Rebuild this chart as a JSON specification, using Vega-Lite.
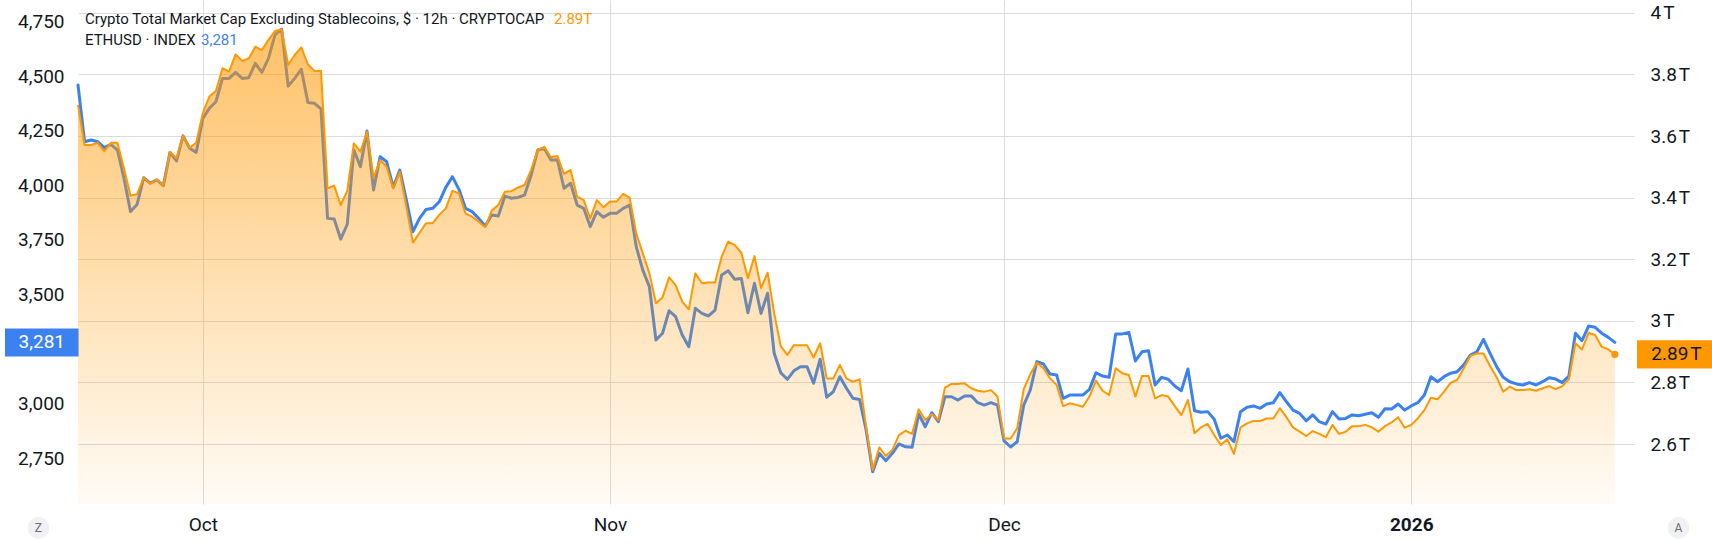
{
  "$schema": "https://vega.github.io/schema/vega-lite/v6.json",
  "width": 1556,
  "height": 504,
  "autosize": {"type": "none"},
  "padding": {"left": 78, "right": 78, "top": 0, "bottom": 44},
  "background": "#ffffff",
  "config": {
    "view": {"stroke": null},
    "font": "Roboto",
    "axis": {"domain": false, "ticks": false, "labelColor": "#131722", "labelFont": "Roboto", "labelFontSize": 19, "gridColor": "#D9DCE1", "gridWidth": 1, "labelOverlap": false, "labelFlush": false, "labelBound": false}
  },
  "data": {
    "format": {"parse": {"t": "date"}},
    "values": [
      {"t":"2025-09-21T12:00","cap":3.701,"eth":4460},
      {"t":"2025-09-22T00:00","cap":3.571,"eth":4200},
      {"t":"2025-09-22T12:00","cap":3.571,"eth":4208},
      {"t":"2025-09-23T00:00","cap":3.578,"eth":4200},
      {"t":"2025-09-23T12:00","cap":3.551,"eth":4173},
      {"t":"2025-09-24T00:00","cap":3.578,"eth":4188},
      {"t":"2025-09-24T12:00","cap":3.578,"eth":4162},
      {"t":"2025-09-25T00:00","cap":3.495,"eth":4032},
      {"t":"2025-09-25T12:00","cap":3.406,"eth":3880},
      {"t":"2025-09-26T00:00","cap":3.411,"eth":3913},
      {"t":"2025-09-26T12:00","cap":3.465,"eth":4035},
      {"t":"2025-09-27T00:00","cap":3.446,"eth":4010},
      {"t":"2025-09-27T12:00","cap":3.459,"eth":4025},
      {"t":"2025-09-28T00:00","cap":3.439,"eth":3999},
      {"t":"2025-09-28T12:00","cap":3.549,"eth":4151},
      {"t":"2025-09-29T00:00","cap":3.528,"eth":4112},
      {"t":"2025-09-29T12:00","cap":3.601,"eth":4227},
      {"t":"2025-09-30T00:00","cap":3.562,"eth":4170},
      {"t":"2025-09-30T12:00","cap":3.578,"eth":4151},
      {"t":"2025-10-01T00:00","cap":3.674,"eth":4307},
      {"t":"2025-10-01T12:00","cap":3.728,"eth":4353},
      {"t":"2025-10-02T00:00","cap":3.746,"eth":4383},
      {"t":"2025-10-02T12:00","cap":3.820,"eth":4490},
      {"t":"2025-10-03T00:00","cap":3.809,"eth":4490},
      {"t":"2025-10-03T12:00","cap":3.865,"eth":4518},
      {"t":"2025-10-04T00:00","cap":3.844,"eth":4490},
      {"t":"2025-10-04T12:00","cap":3.852,"eth":4493},
      {"t":"2025-10-05T00:00","cap":3.890,"eth":4559},
      {"t":"2025-10-05T12:00","cap":3.879,"eth":4518},
      {"t":"2025-10-06T00:00","cap":3.912,"eth":4582},
      {"t":"2025-10-06T12:00","cap":3.941,"eth":4689},
      {"t":"2025-10-07T00:00","cap":3.947,"eth":4716},
      {"t":"2025-10-07T12:00","cap":3.831,"eth":4455},
      {"t":"2025-10-08T00:00","cap":3.863,"eth":4490},
      {"t":"2025-10-08T12:00","cap":3.888,"eth":4532},
      {"t":"2025-10-09T00:00","cap":3.833,"eth":4380},
      {"t":"2025-10-09T12:00","cap":3.811,"eth":4376},
      {"t":"2025-10-10T00:00","cap":3.811,"eth":4350},
      {"t":"2025-10-10T12:00","cap":3.430,"eth":3849},
      {"t":"2025-10-11T00:00","cap":3.439,"eth":3846},
      {"t":"2025-10-11T12:00","cap":3.376,"eth":3754},
      {"t":"2025-10-12T00:00","cap":3.422,"eth":3822},
      {"t":"2025-10-12T12:00","cap":3.576,"eth":4162},
      {"t":"2025-10-13T00:00","cap":3.549,"eth":4086},
      {"t":"2025-10-13T12:00","cap":3.614,"eth":4249},
      {"t":"2025-10-14T00:00","cap":3.465,"eth":3979},
      {"t":"2025-10-14T12:00","cap":3.522,"eth":4131},
      {"t":"2025-10-15T00:00","cap":3.500,"eth":4108},
      {"t":"2025-10-15T12:00","cap":3.430,"eth":3991},
      {"t":"2025-10-16T00:00","cap":3.484,"eth":4070},
      {"t":"2025-10-16T12:00","cap":3.370,"eth":3933},
      {"t":"2025-10-17T00:00","cap":3.254,"eth":3788},
      {"t":"2025-10-17T12:00","cap":3.286,"eth":3849},
      {"t":"2025-10-18T00:00","cap":3.317,"eth":3890},
      {"t":"2025-10-18T12:00","cap":3.317,"eth":3895},
      {"t":"2025-10-19T00:00","cap":3.344,"eth":3925},
      {"t":"2025-10-19T12:00","cap":3.365,"eth":3991},
      {"t":"2025-10-20T00:00","cap":3.422,"eth":4040},
      {"t":"2025-10-20T12:00","cap":3.414,"eth":3982},
      {"t":"2025-10-21T00:00","cap":3.349,"eth":3895},
      {"t":"2025-10-21T12:00","cap":3.338,"eth":3880},
      {"t":"2025-10-22T00:00","cap":3.322,"eth":3849},
      {"t":"2025-10-22T12:00","cap":3.304,"eth":3814},
      {"t":"2025-10-23T00:00","cap":3.358,"eth":3864},
      {"t":"2025-10-23T12:00","cap":3.376,"eth":3860},
      {"t":"2025-10-24T00:00","cap":3.419,"eth":3951},
      {"t":"2025-10-24T12:00","cap":3.421,"eth":3941},
      {"t":"2025-10-25T00:00","cap":3.433,"eth":3945},
      {"t":"2025-10-25T12:00","cap":3.441,"eth":3956},
      {"t":"2025-10-26T00:00","cap":3.490,"eth":4048},
      {"t":"2025-10-26T12:00","cap":3.555,"eth":4162},
      {"t":"2025-10-27T00:00","cap":3.565,"eth":4170},
      {"t":"2025-10-27T12:00","cap":3.531,"eth":4116},
      {"t":"2025-10-28T00:00","cap":3.535,"eth":4116},
      {"t":"2025-10-28T12:00","cap":3.477,"eth":3987},
      {"t":"2025-10-29T00:00","cap":3.490,"eth":4010},
      {"t":"2025-10-29T12:00","cap":3.403,"eth":3910},
      {"t":"2025-10-30T00:00","cap":3.392,"eth":3895},
      {"t":"2025-10-30T12:00","cap":3.333,"eth":3811},
      {"t":"2025-10-31T00:00","cap":3.392,"eth":3880},
      {"t":"2025-10-31T12:00","cap":3.369,"eth":3854},
      {"t":"2025-11-01T00:00","cap":3.387,"eth":3872},
      {"t":"2025-11-01T12:00","cap":3.387,"eth":3872},
      {"t":"2025-11-02T00:00","cap":3.412,"eth":3895},
      {"t":"2025-11-02T12:00","cap":3.400,"eth":3910},
      {"t":"2025-11-03T00:00","cap":3.284,"eth":3719},
      {"t":"2025-11-03T12:00","cap":3.219,"eth":3612},
      {"t":"2025-11-04T00:00","cap":3.154,"eth":3536},
      {"t":"2025-11-04T12:00","cap":3.057,"eth":3292},
      {"t":"2025-11-05T00:00","cap":3.076,"eth":3323},
      {"t":"2025-11-05T12:00","cap":3.141,"eth":3426},
      {"t":"2025-11-06T00:00","cap":3.116,"eth":3399},
      {"t":"2025-11-06T12:00","cap":3.062,"eth":3315},
      {"t":"2025-11-07T00:00","cap":3.037,"eth":3261},
      {"t":"2025-11-07T12:00","cap":3.154,"eth":3437},
      {"t":"2025-11-08T00:00","cap":3.122,"eth":3414},
      {"t":"2025-11-08T12:00","cap":3.124,"eth":3402},
      {"t":"2025-11-09T00:00","cap":3.124,"eth":3429},
      {"t":"2025-11-09T12:00","cap":3.208,"eth":3590},
      {"t":"2025-11-10T00:00","cap":3.257,"eth":3609},
      {"t":"2025-11-10T12:00","cap":3.246,"eth":3570},
      {"t":"2025-11-11T00:00","cap":3.221,"eth":3574},
      {"t":"2025-11-11T12:00","cap":3.138,"eth":3417},
      {"t":"2025-11-12T00:00","cap":3.210,"eth":3552},
      {"t":"2025-11-12T12:00","cap":3.106,"eth":3414},
      {"t":"2025-11-13T00:00","cap":3.156,"eth":3506},
      {"t":"2025-11-13T12:00","cap":3.024,"eth":3231},
      {"t":"2025-11-14T00:00","cap":2.918,"eth":3142},
      {"t":"2025-11-14T12:00","cap":2.889,"eth":3112},
      {"t":"2025-11-15T00:00","cap":2.921,"eth":3151},
      {"t":"2025-11-15T12:00","cap":2.921,"eth":3170},
      {"t":"2025-11-16T00:00","cap":2.921,"eth":3170},
      {"t":"2025-11-16T12:00","cap":2.881,"eth":3094},
      {"t":"2025-11-17T00:00","cap":2.927,"eth":3204},
      {"t":"2025-11-17T12:00","cap":2.813,"eth":3030},
      {"t":"2025-11-18T00:00","cap":2.813,"eth":3055},
      {"t":"2025-11-18T12:00","cap":2.857,"eth":3124},
      {"t":"2025-11-19T00:00","cap":2.813,"eth":3071},
      {"t":"2025-11-19T12:00","cap":2.802,"eth":3025},
      {"t":"2025-11-20T00:00","cap":2.810,"eth":3020},
      {"t":"2025-11-20T12:00","cap":2.656,"eth":2880},
      {"t":"2025-11-21T00:00","cap":2.516,"eth":2689},
      {"t":"2025-11-21T12:00","cap":2.589,"eth":2773},
      {"t":"2025-11-22T00:00","cap":2.561,"eth":2739},
      {"t":"2025-11-22T12:00","cap":2.581,"eth":2773},
      {"t":"2025-11-23T00:00","cap":2.629,"eth":2816},
      {"t":"2025-11-23T12:00","cap":2.643,"eth":2803},
      {"t":"2025-11-24T00:00","cap":2.633,"eth":2801},
      {"t":"2025-11-24T12:00","cap":2.713,"eth":2953},
      {"t":"2025-11-25T00:00","cap":2.678,"eth":2895},
      {"t":"2025-11-25T12:00","cap":2.697,"eth":2959},
      {"t":"2025-11-26T00:00","cap":2.678,"eth":2918},
      {"t":"2025-11-26T12:00","cap":2.783,"eth":3032},
      {"t":"2025-11-27T00:00","cap":2.795,"eth":3032},
      {"t":"2025-11-27T12:00","cap":2.795,"eth":3017},
      {"t":"2025-11-28T00:00","cap":2.797,"eth":3036},
      {"t":"2025-11-28T12:00","cap":2.781,"eth":3036},
      {"t":"2025-11-29T00:00","cap":2.773,"eth":3005},
      {"t":"2025-11-29T12:00","cap":2.770,"eth":2994},
      {"t":"2025-11-30T00:00","cap":2.775,"eth":3005},
      {"t":"2025-11-30T12:00","cap":2.754,"eth":2994},
      {"t":"2025-12-01T00:00","cap":2.618,"eth":2830},
      {"t":"2025-12-01T12:00","cap":2.618,"eth":2802},
      {"t":"2025-12-02T00:00","cap":2.651,"eth":2826},
      {"t":"2025-12-02T12:00","cap":2.778,"eth":2994},
      {"t":"2025-12-03T00:00","cap":2.827,"eth":3063},
      {"t":"2025-12-03T12:00","cap":2.864,"eth":3193},
      {"t":"2025-12-04T00:00","cap":2.846,"eth":3182},
      {"t":"2025-12-04T12:00","cap":2.813,"eth":3136},
      {"t":"2025-12-05T00:00","cap":2.792,"eth":3132},
      {"t":"2025-12-05T12:00","cap":2.723,"eth":3025},
      {"t":"2025-12-06T00:00","cap":2.732,"eth":3040},
      {"t":"2025-12-06T12:00","cap":2.727,"eth":3040},
      {"t":"2025-12-07T00:00","cap":2.721,"eth":3040},
      {"t":"2025-12-07T12:00","cap":2.754,"eth":3066},
      {"t":"2025-12-08T00:00","cap":2.806,"eth":3142},
      {"t":"2025-12-08T12:00","cap":2.773,"eth":3127},
      {"t":"2025-12-09T00:00","cap":2.759,"eth":3121},
      {"t":"2025-12-09T12:00","cap":2.846,"eth":3320},
      {"t":"2025-12-10T00:00","cap":2.830,"eth":3320},
      {"t":"2025-12-10T12:00","cap":2.824,"eth":3327},
      {"t":"2025-12-11T00:00","cap":2.754,"eth":3196},
      {"t":"2025-12-11T12:00","cap":2.821,"eth":3238},
      {"t":"2025-12-12T00:00","cap":2.821,"eth":3243},
      {"t":"2025-12-12T12:00","cap":2.748,"eth":3086},
      {"t":"2025-12-13T00:00","cap":2.759,"eth":3121},
      {"t":"2025-12-13T12:00","cap":2.754,"eth":3112},
      {"t":"2025-12-14T00:00","cap":2.723,"eth":3081},
      {"t":"2025-12-14T12:00","cap":2.694,"eth":3060},
      {"t":"2025-12-15T00:00","cap":2.743,"eth":3159},
      {"t":"2025-12-15T12:00","cap":2.635,"eth":2968},
      {"t":"2025-12-16T00:00","cap":2.654,"eth":2961},
      {"t":"2025-12-16T12:00","cap":2.665,"eth":2964},
      {"t":"2025-12-17T00:00","cap":2.629,"eth":2929},
      {"t":"2025-12-17T12:00","cap":2.597,"eth":2842},
      {"t":"2025-12-18T00:00","cap":2.615,"eth":2857},
      {"t":"2025-12-18T12:00","cap":2.568,"eth":2826},
      {"t":"2025-12-19T00:00","cap":2.654,"eth":2964},
      {"t":"2025-12-19T12:00","cap":2.667,"eth":2984},
      {"t":"2025-12-20T00:00","cap":2.675,"eth":2990},
      {"t":"2025-12-20T12:00","cap":2.675,"eth":2979},
      {"t":"2025-12-21T00:00","cap":2.683,"eth":2999},
      {"t":"2025-12-21T12:00","cap":2.683,"eth":3005},
      {"t":"2025-12-22T00:00","cap":2.716,"eth":3051},
      {"t":"2025-12-22T12:00","cap":2.687,"eth":3009},
      {"t":"2025-12-23T00:00","cap":2.654,"eth":2971},
      {"t":"2025-12-23T12:00","cap":2.640,"eth":2956},
      {"t":"2025-12-24T00:00","cap":2.626,"eth":2922},
      {"t":"2025-12-24T12:00","cap":2.642,"eth":2949},
      {"t":"2025-12-25T00:00","cap":2.633,"eth":2918},
      {"t":"2025-12-25T12:00","cap":2.622,"eth":2907},
      {"t":"2025-12-26T00:00","cap":2.662,"eth":2964},
      {"t":"2025-12-26T12:00","cap":2.633,"eth":2930},
      {"t":"2025-12-27T00:00","cap":2.640,"eth":2933},
      {"t":"2025-12-27T12:00","cap":2.658,"eth":2949},
      {"t":"2025-12-28T00:00","cap":2.658,"eth":2945},
      {"t":"2025-12-28T12:00","cap":2.662,"eth":2952},
      {"t":"2025-12-29T00:00","cap":2.654,"eth":2959},
      {"t":"2025-12-29T12:00","cap":2.640,"eth":2938},
      {"t":"2025-12-30T00:00","cap":2.658,"eth":2977},
      {"t":"2025-12-30T12:00","cap":2.670,"eth":2976},
      {"t":"2025-12-31T00:00","cap":2.687,"eth":2999},
      {"t":"2025-12-31T12:00","cap":2.653,"eth":2971},
      {"t":"2026-01-01T00:00","cap":2.662,"eth":2990},
      {"t":"2026-01-01T12:00","cap":2.683,"eth":3005},
      {"t":"2026-01-02T00:00","cap":2.710,"eth":3040},
      {"t":"2026-01-02T12:00","cap":2.750,"eth":3124},
      {"t":"2026-01-03T00:00","cap":2.745,"eth":3101},
      {"t":"2026-01-03T12:00","cap":2.770,"eth":3124},
      {"t":"2026-01-04T00:00","cap":2.799,"eth":3140},
      {"t":"2026-01-04T12:00","cap":2.808,"eth":3147},
      {"t":"2026-01-05T00:00","cap":2.846,"eth":3178},
      {"t":"2026-01-05T12:00","cap":2.886,"eth":3223},
      {"t":"2026-01-06T00:00","cap":2.894,"eth":3238},
      {"t":"2026-01-06T12:00","cap":2.894,"eth":3295},
      {"t":"2026-01-07T00:00","cap":2.853,"eth":3231},
      {"t":"2026-01-07T12:00","cap":2.817,"eth":3170},
      {"t":"2026-01-08T00:00","cap":2.770,"eth":3121},
      {"t":"2026-01-08T12:00","cap":2.786,"eth":3101},
      {"t":"2026-01-09T00:00","cap":2.775,"eth":3091},
      {"t":"2026-01-09T12:00","cap":2.775,"eth":3086},
      {"t":"2026-01-10T00:00","cap":2.778,"eth":3097},
      {"t":"2026-01-10T12:00","cap":2.773,"eth":3086},
      {"t":"2026-01-11T00:00","cap":2.781,"eth":3101},
      {"t":"2026-01-11T12:00","cap":2.788,"eth":3119},
      {"t":"2026-01-12T00:00","cap":2.778,"eth":3113},
      {"t":"2026-01-12T12:00","cap":2.788,"eth":3097},
      {"t":"2026-01-13T00:00","cap":2.810,"eth":3127},
      {"t":"2026-01-13T12:00","cap":2.927,"eth":3323},
      {"t":"2026-01-14T00:00","cap":2.907,"eth":3289},
      {"t":"2026-01-14T12:00","cap":2.961,"eth":3356},
      {"t":"2026-01-15T00:00","cap":2.954,"eth":3350},
      {"t":"2026-01-15T12:00","cap":2.916,"eth":3323},
      {"t":"2026-01-16T00:00","cap":2.907,"eth":3304},
      {"t":"2026-01-16T12:00","cap":2.891,"eth":3281}
    ]
  },
  "encoding": {
    "x": {
      "field": "t",
      "type": "temporal",
      "scale": {"domain": [{"year": 2025, "month": 9, "date": 21, "hours": 12}, {"year": 2026, "month": 1, "date": 17, "hours": 23}]},
      "axis": {
        "orient": "bottom",
        "title": null,
        "grid": true,
        "tickCount": {"interval": "month", "step": 1},
        "labelExpr": "month(datum.value) == 0 ? timeFormat(datum.value, '%Y') : timeFormat(datum.value, '%b')",
        "labelFontWeight": {"condition": {"test": "month(datum.value) == 0", "value": "bold"}, "value": "normal"},
        "labelBaseline": "middle",
        "labelPadding": 20
      }
    }
  },
  "layer": [
    {
      "encoding": {
        "y": {
          "field": "eth",
          "type": "quantitative",
          "scale": {"domain": [2541, 4849], "nice": false, "zero": false},
          "axis": {"orient": "left", "title": null, "grid": false, "values": [2750, 3000, 3500, 3750, 4000, 4250, 4500, 4750], "labelExpr": "format(datum.value, ',')", "labelPadding": 14}
        }
      },
      "layer": [
        {"mark": {"type": "line", "stroke": "#3B82F0", "strokeWidth": 3, "strokeJoin": "round", "strokeCap": "round"}},
        {
          "transform": [{"filter": {"field": "t", "equal": {"year": 2026, "month": 1, "date": 16, "hours": 12}}}],
          "mark": {"type": "point", "shape": "M-1,-0.38L1,-0.38L1,0.38L-1,0.38Z", "filled": true, "size": 5417, "color": "#3B82F0", "opacity": 1, "strokeWidth": 0},
          "encoding": {"x": {"datum": {"year": 2025, "month": 9, "date": 18, "hours": 17, "minutes": 51}, "type": "temporal"}}
        },
        {
          "transform": [{"filter": {"field": "t", "equal": {"year": 2026, "month": 1, "date": 16, "hours": 12}}}],
          "mark": {"type": "text", "color": "#ffffff", "fontSize": 19, "align": "center", "baseline": "middle", "font": "Roboto"},
          "encoding": {"x": {"datum": {"year": 2025, "month": 9, "date": 18, "hours": 17, "minutes": 51}, "type": "temporal"}, "text": {"field": "eth", "format": ","}}
        }
      ]
    },
    {
      "encoding": {
        "y": {
          "field": "cap",
          "type": "quantitative",
          "scale": {"domain": [2.4052, 4.0416], "nice": false, "zero": false},
          "axis": {"orient": "right", "title": null, "grid": true, "values": [2.6, 2.8, 3, 3.2, 3.4, 3.6, 3.8, 4], "labelExpr": "format(datum.value, '.2~f') + '\u202fT'", "labelPadding": 16}
        }
      },
      "layer": [
        {
          "mark": {"type": "area", "fill": {"gradient": "linear", "x1": 0, "y1": 0, "x2": 0, "y2": 1, "stops": [{"offset": 0, "color": "rgba(255,152,0,0.6)"}, {"offset": 1, "color": "rgba(255,152,0,0.04)"}]}},
          "encoding": {"y2": {"datum": 2.4052}}
        },
        {"mark": {"type": "line", "stroke": "#FF9800", "strokeWidth": 2, "strokeJoin": "round"}},
        {
          "transform": [{"filter": {"field": "t", "equal": {"year": 2026, "month": 1, "date": 16, "hours": 12}}}],
          "mark": {"type": "circle", "color": "#FF9800", "size": 50, "opacity": 1}
        },
        {
          "transform": [{"filter": {"field": "t", "equal": {"year": 2026, "month": 1, "date": 16, "hours": 12}}}],
          "mark": {"type": "point", "shape": "M-1,-0.36L1,-0.36L1,0.36L-1,0.36Z", "filled": true, "size": 6241, "color": "#FF9800", "opacity": 1, "strokeWidth": 0},
          "encoding": {"x": {"datum": {"year": 2026, "month": 1, "date": 21, "hours": 4, "minutes": 40}, "type": "temporal"}}
        },
        {
          "transform": [{"filter": {"field": "t", "equal": {"year": 2026, "month": 1, "date": 16, "hours": 12}}}],
          "mark": {"type": "text", "text": "2.89\u202fT", "color": "#131722", "fontSize": 19, "align": "center", "baseline": "middle", "font": "Roboto"},
          "encoding": {"x": {"datum": {"year": 2026, "month": 1, "date": 21, "hours": 4, "minutes": 40}, "type": "temporal"}}
        },
        {
          "transform": [{"filter": {"field": "t", "equal": {"year": 2026, "month": 1, "date": 16, "hours": 12}}}],
          "mark": {"type": "text", "text": "Crypto Total Market Cap Excluding Stablecoins, $ · 12h · CRYPTOCAP", "color": "#131722", "fontSize": 15, "align": "left", "baseline": "middle", "dx": 7, "font": "Roboto"},
          "encoding": {"x": {"datum": {"year": 2025, "month": 9, "date": 21, "hours": 12}, "type": "temporal"}, "y": {"datum": 3.9812, "type": "quantitative"}}
        },
        {
          "transform": [{"filter": {"field": "t", "equal": {"year": 2026, "month": 1, "date": 16, "hours": 12}}}],
          "mark": {"type": "text", "text": "2.89T", "color": "#FF9800", "fontSize": 15, "align": "left", "baseline": "middle", "dx": 476, "font": "Roboto"},
          "encoding": {"x": {"datum": {"year": 2025, "month": 9, "date": 21, "hours": 12}, "type": "temporal"}, "y": {"datum": 3.9812, "type": "quantitative"}}
        },
        {
          "transform": [{"filter": {"field": "t", "equal": {"year": 2026, "month": 1, "date": 16, "hours": 12}}}],
          "mark": {"type": "text", "text": "ETHUSD · INDEX", "color": "#131722", "fontSize": 15, "align": "left", "baseline": "middle", "dx": 7, "font": "Roboto"},
          "encoding": {"x": {"datum": {"year": 2025, "month": 9, "date": 21, "hours": 12}, "type": "temporal"}, "y": {"datum": 3.9127, "type": "quantitative"}}
        },
        {
          "transform": [{"filter": {"field": "t", "equal": {"year": 2026, "month": 1, "date": 16, "hours": 12}}}],
          "mark": {"type": "text", "color": "#3B82F0", "fontSize": 15, "align": "left", "baseline": "middle", "dx": 123, "font": "Roboto"},
          "encoding": {"x": {"datum": {"year": 2025, "month": 9, "date": 21, "hours": 12}, "type": "temporal"}, "y": {"datum": 3.9127, "type": "quantitative"}, "text": {"field": "eth", "format": ","}}
        },
        {
          "transform": [{"filter": {"field": "t", "equal": {"year": 2026, "month": 1, "date": 16, "hours": 12}}}],
          "mark": {"type": "circle", "color": "#F0F1F3", "size": 471, "opacity": 1},
          "encoding": {"x": {"datum": {"year": 2025, "month": 9, "date": 18, "hours": 11, "minutes": 39}, "type": "temporal"}, "y": {"datum": 2.3279, "type": "quantitative"}}
        },
        {
          "transform": [{"filter": {"field": "t", "equal": {"year": 2026, "month": 1, "date": 16, "hours": 12}}}],
          "mark": {"type": "text", "text": "Z", "color": "#6A6D78", "fontSize": 12, "align": "center", "baseline": "middle", "font": "Roboto"},
          "encoding": {"x": {"datum": {"year": 2025, "month": 9, "date": 18, "hours": 11, "minutes": 39}, "type": "temporal"}, "y": {"datum": 2.3279, "type": "quantitative"}}
        },
        {
          "transform": [{"filter": {"field": "t", "equal": {"year": 2026, "month": 1, "date": 16, "hours": 12}}}],
          "mark": {"type": "circle", "color": "#F0F1F3", "size": 471, "opacity": 1},
          "encoding": {"x": {"datum": {"year": 2026, "month": 1, "date": 21, "hours": 8, "minutes": 7}, "type": "temporal"}, "y": {"datum": 2.3279, "type": "quantitative"}}
        },
        {
          "transform": [{"filter": {"field": "t", "equal": {"year": 2026, "month": 1, "date": 16, "hours": 12}}}],
          "mark": {"type": "text", "text": "A", "color": "#6A6D78", "fontSize": 12, "align": "center", "baseline": "middle", "font": "Roboto"},
          "encoding": {"x": {"datum": {"year": 2026, "month": 1, "date": 21, "hours": 8, "minutes": 7}, "type": "temporal"}, "y": {"datum": 2.3279, "type": "quantitative"}}
        }
      ]
    }
  ],
  "resolve": {"scale": {"y": "independent"}}
}
